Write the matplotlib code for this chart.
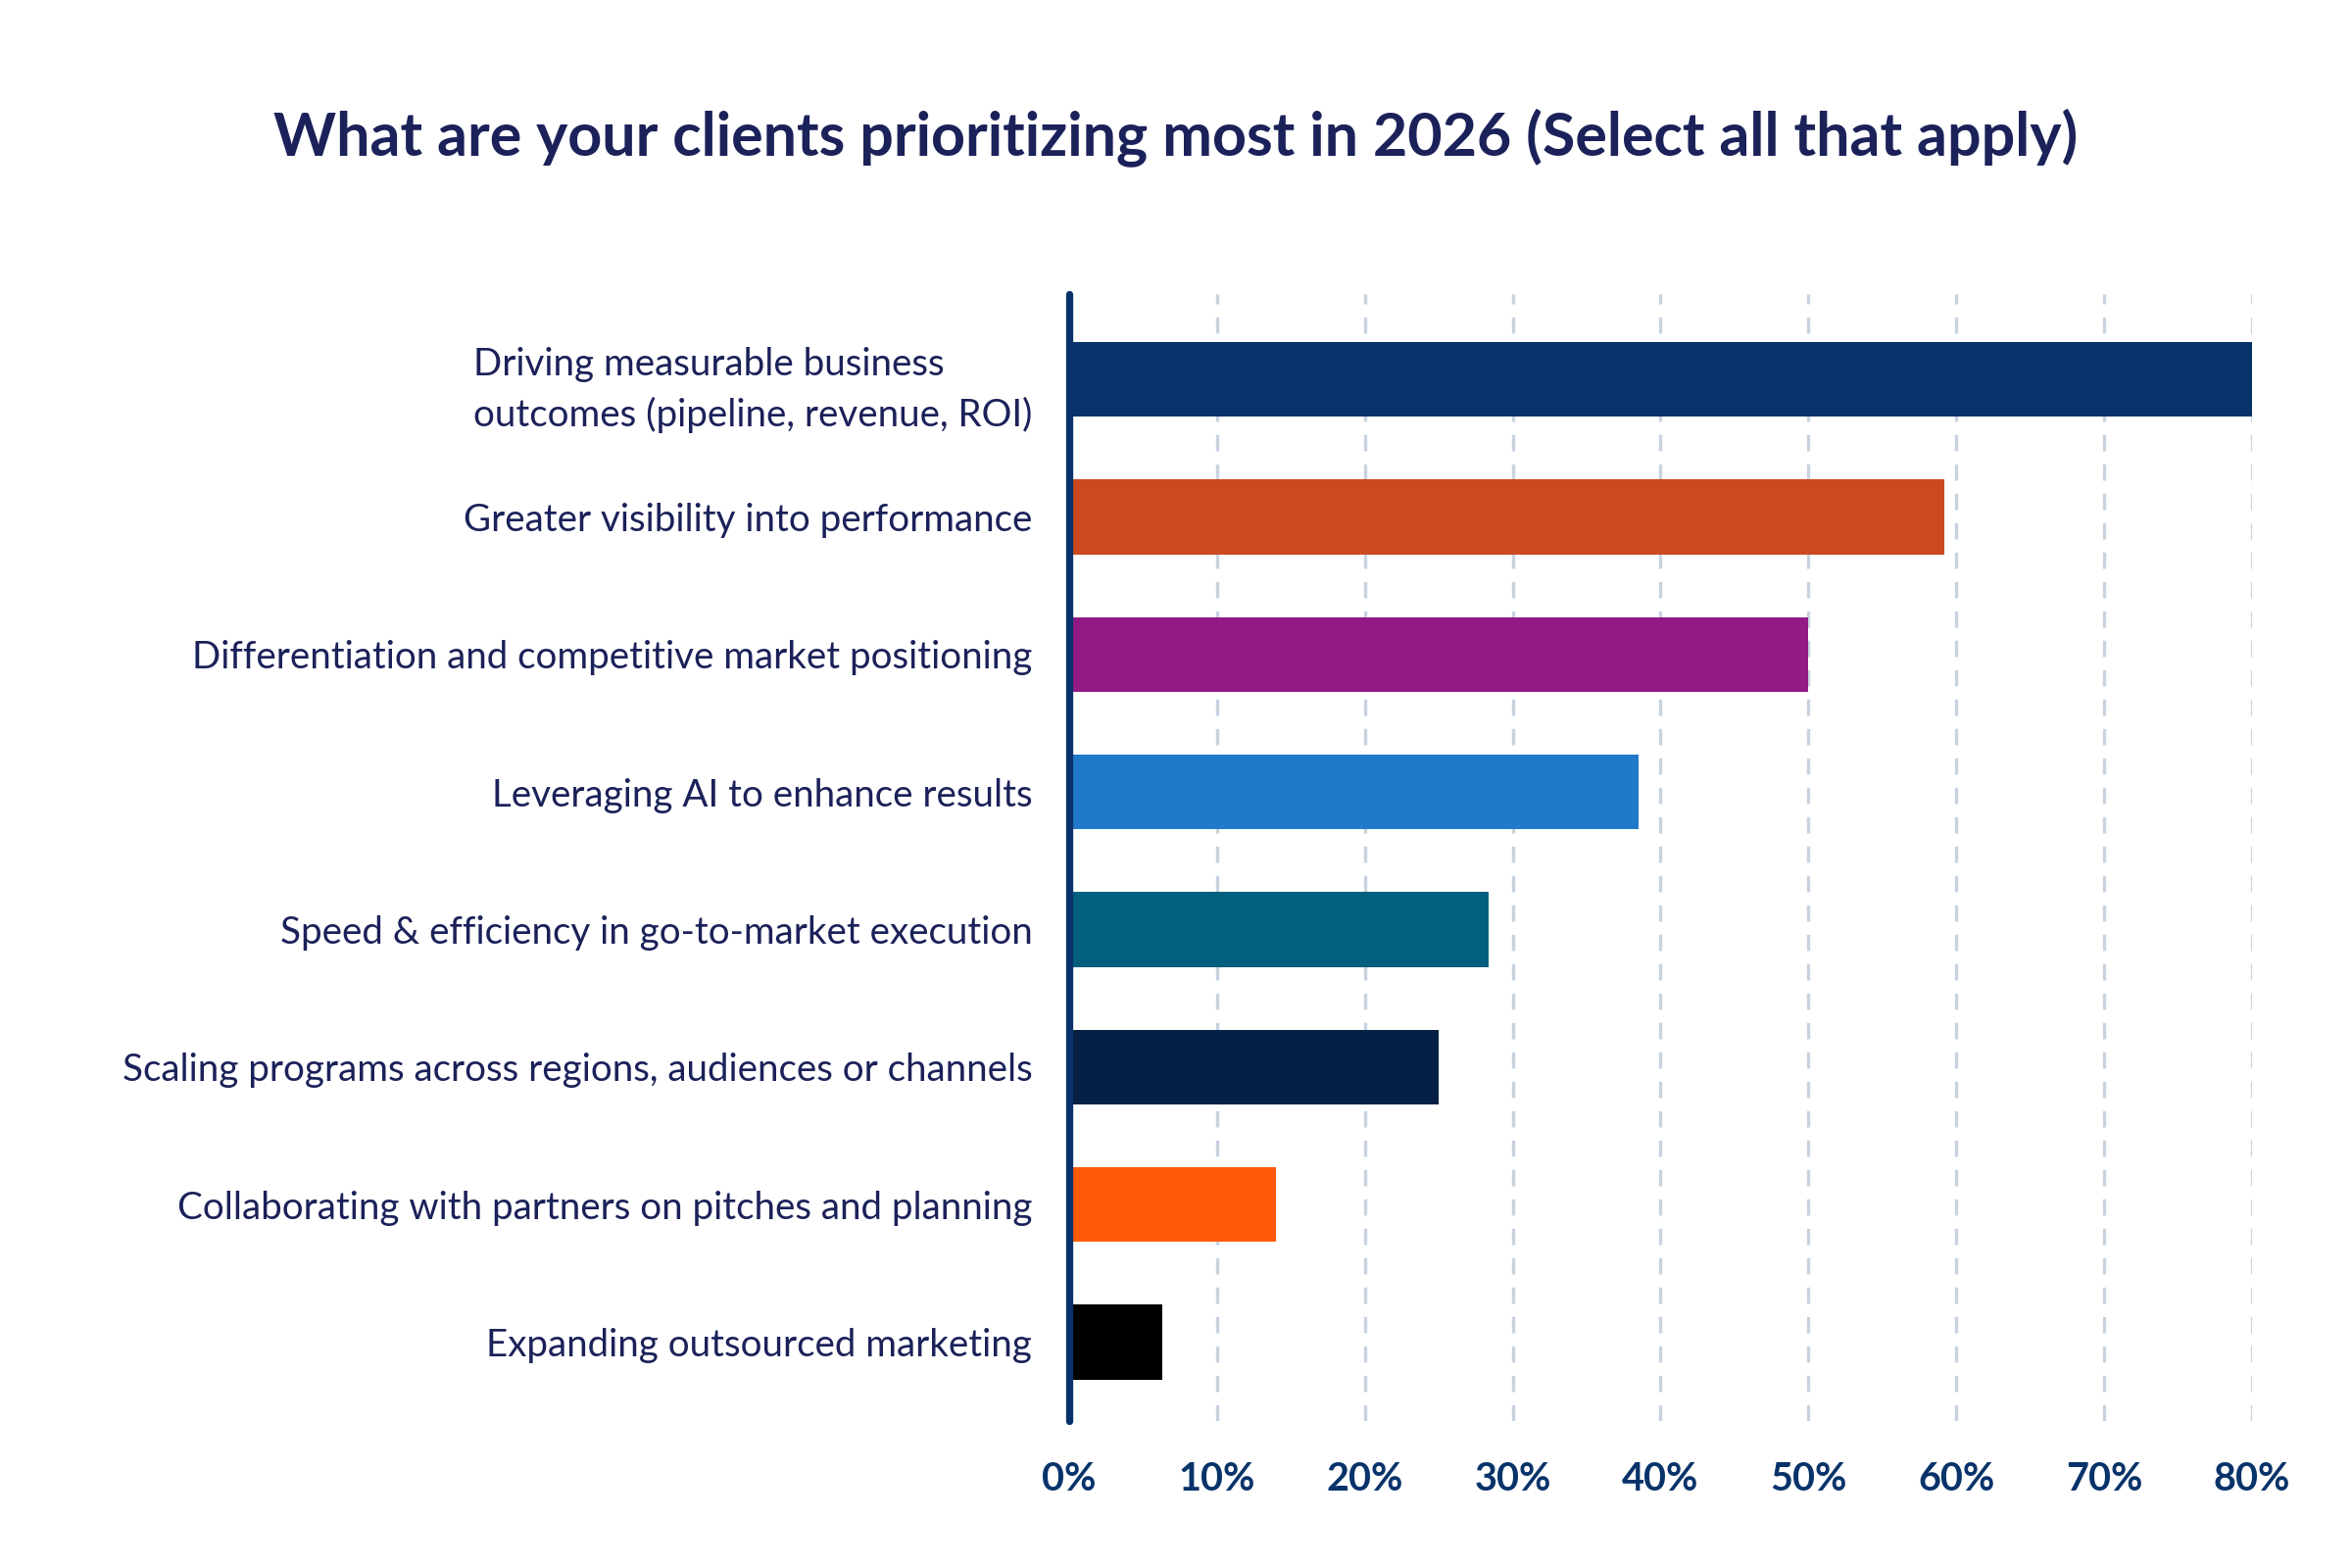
import matplotlib.pyplot as plt

# survey answers, top to bottom
categories = [
    "Driving measurable business\noutcomes (pipeline, revenue, ROI)",
    "Greater visibility into performance",
    "Differentiation and competitive market positioning",
    "Leveraging AI to enhance results",
    "Speed & efficiency in go-to-market execution",
    "Scaling programs across regions, audiences or channels",
    "Collaborating with partners on pitches and planning",
    "Expanding outsourced marketing",
]
shares = [80.0, 59.2, 50.0, 38.5, 28.4, 25.0, 14.0, 6.3]
bar_colors = ["#08336A", "#CB4820", "#921A84", "#2079C9",
              "#02607E", "#052044", "#FF5A0A", "#000000"]
x_ticks = [0, 10, 20, 30, 40, 50, 60, 70, 80]

TEXT = "#1B2159"
NAVY = "#08336A"

plt.rcParams["font.family"] = ["Lato", "DejaVu Sans"]

fig = plt.figure(figsize=(16, 16 / 1.5), dpi=150)
ax = fig.add_axes([0.4545, 0.094, 0.503, 0.7185])

ypos = list(range(len(categories)))
ax.barh(ypos, shares, height=0.545, color=bar_colors, zorder=3)

ax.set_xlim(0, 80)
ax.set_ylim(7.57, -0.62)

ax.set_xticks(x_ticks)
ax.set_xticklabels([f"{t}%" for t in x_ticks], fontsize=19,
                   fontweight="bold", color=NAVY)
ax.set_yticks(ypos)
ax.set_yticklabels(categories, fontsize=18.5, color=TEXT)
for lbl in ax.get_yticklabels():
    lbl.set_multialignment("left")
    lbl.set_linespacing(1.5)
ax.tick_params(axis="both", length=0)
ax.tick_params(axis="x", pad=20)
ax.tick_params(axis="y", pad=18)

for t in x_ticks[1:]:
    ax.axvline(t, color="#C8D3E0", lw=1.6, ls=(0, (5, 4)), zorder=1)

for s in ax.spines.values():
    s.set_visible(False)
ax.plot([0, 0], [7.57, -0.62], color=NAVY, lw=3.5,
        solid_capstyle="round", zorder=4, clip_on=False)

fig.text(0.5, 0.912, "What are your clients prioritizing most in 2026 (Select all that apply)",
         ha="center", va="center", fontsize=29.3, fontweight="bold", color=TEXT)

fig.savefig("out.png", dpi=150, facecolor="white")
